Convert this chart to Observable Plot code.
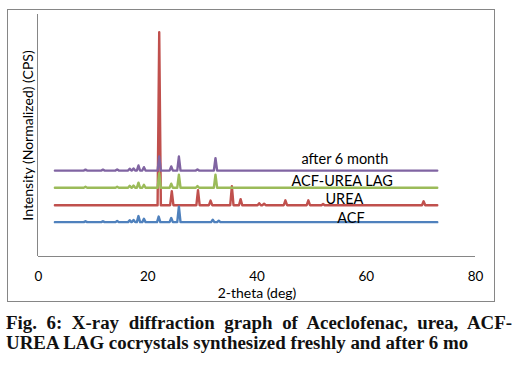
<!DOCTYPE html>
<html><head><meta charset="utf-8">
<script src="https://cdn.jsdelivr.net/npm/d3@7"></script>
<script src="https://cdn.jsdelivr.net/npm/@observablehq/plot@0.6"></script>
<style>
body{margin:0;background:#fff;width:516px;height:366px;position:relative;overflow:hidden}
#chart{position:absolute;left:0;top:0}
#frame{position:absolute;left:7px;top:9px;width:486px;height:291px;border:1px solid #868686;pointer-events:none}
.cap{position:absolute;left:6px;width:506px;font:bold 18.9px "Liberation Serif","Times New Roman",serif;line-height:20px;color:#111;white-space:nowrap}
#cap1{top:313px;text-align:justify;text-align-last:justify}
#cap2{top:333px;text-align:left}
</style></head><body>
<div id="chart"></div><div id="frame"></div>
<div class="cap" id="cap1">Fig. 6: X-ray diffraction graph of Aceclofenac, urea, ACF-</div>
<div class="cap" id="cap2">UREA LAG cocrystals synthesized freshly and after 6 mo</div>
<script>
// ---- data ----
const seriesNames = ["UREA", "ACF", "ACF-UREA LAG", "after 6 month"]; // drawing order
const seriesColors = ["#C0504D", "#4F81BD", "#9BBB59", "#8064A2"];
const offsets = [21.2, 14.2, 28.4, 35.5];        // normalized baseline offsets
const scanStart = 3, scanEnd = 73;                 // 2-theta scan range (deg)

const ureaPos = [22.1, 24.4, 29.2, 31.5, 35.4, 37.0, 40.4, 41.3, 45.2, 49.4, 52.1, 70.5];
const ureaInt = [71.5, 5.8, 6.2, 1.9, 7.8, 2.5, 0.8, 0.6, 2.0, 2.0, 0.5, 1.6];

const acfPos = [8.6, 11.8, 14.4, 16.7, 17.4, 18.3, 19.3, 22.0, 24.3, 25.7, 31.9, 33.0];
const acfInt = [0.4, 0.4, 0.5, 0.8, 0.9, 2.5, 1.4, 2.3, 1.7, 6.4, 1.0, 0.6];

const lagPos = [8.6, 14.4, 16.7, 17.4, 18.3, 19.3, 22.1, 24.3, 25.7, 29.1, 32.4];
const lagInt = [0.4, 0.4, 0.8, 0.9, 2.1, 1.2, 6.0, 1.7, 5.4, 0.7, 5.4];

const m6Pos = [8.6, 11.8, 14.4, 16.7, 17.4, 18.3, 19.3, 22.1, 24.3, 25.7, 29.1, 32.4];
const m6Int = [0.4, 0.4, 0.5, 0.8, 0.9, 2.1, 1.4, 5.8, 1.7, 5.8, 0.5, 5.1];

const labelText = ["ACF", "UREA", "ACF-UREA LAG", "after 6 month"];
const labelX = [57.2, 56.0, 55.6, 56.1];
const labelY = [15.6, 23.6, 30.9, 40.3];

const xTicks = [0, 20, 40, 60, 80];
const xTitle = "2-theta (deg)";
const yTitle = "Intensity (Normalized) (CPS)";

// ---- build line table ----
const peakHalfWidth = 0.3;
const peakSets = [[ureaPos, ureaInt], [acfPos, acfInt], [lagPos, lagInt], [m6Pos, m6Int]];
const rows = [];
seriesNames.forEach((name, k) => {
  const [pos, int] = peakSets[k];
  const off = offsets[k];
  rows.push({s: name, x: scanStart, y: off});
  pos.forEach((p, i) => {
    rows.push({s: name, x: p - peakHalfWidth, y: off});
    rows.push({s: name, x: p, y: off + int[i]});
    rows.push({s: name, x: p + peakHalfWidth, y: off});
  });
  rows.push({s: name, x: scanEnd, y: off});
});
const labels = labelText.map((t, i) => ({t, x: labelX[i], y: labelY[i]}));

const chart = Plot.plot({
  width: 516, height: 305,
  marginLeft: 38, marginRight: 41, marginTop: 14, marginBottom: 49,
  style: {fontFamily: "Lato, 'Open Sans', sans-serif", fontSize: "13.5px", color: "#000", background: "transparent"},
  x: {domain: [0, 80], ticks: xTicks, tickSize: 0, tickPadding: 15, label: null},
  y: {domain: [0, 100], axis: null},
  color: {domain: seriesNames, range: seriesColors},
  marks: [
    Plot.ruleY([0], {stroke: "#868686"}),
    Plot.ruleX([0], {stroke: "#868686", dx: -1}),
    ...seriesNames.map(name => Plot.line(rows.filter(r => r.s === name), {x: "x", y: "y", stroke: "s", strokeWidth: 2.4, strokeLinejoin: "round"})),
    Plot.text(labels, {x: "x", y: "y", text: "t", fontSize: 14.5, fill: "#000"}),
    Plot.text([xTitle], {frameAnchor: "bottom", lineAnchor: "middle", textAnchor: "middle", dy: 37, fontSize: 14, fill: "#000"}),
    Plot.text([yTitle], {frameAnchor: "left", textAnchor: "middle", lineAnchor: "middle", rotate: -90, dx: -10, fontSize: 14, fill: "#000"})
  ]
});
document.getElementById("chart").appendChild(chart);
</script>
</body></html>
